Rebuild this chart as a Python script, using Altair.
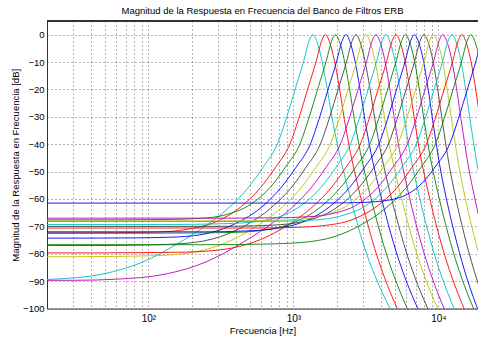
import altair as alt
import pandas as pd

# ---------------- texts ----------------
title_text = "Magnitud de la Respuesta en Frecuencia del Banco de Filtros ERB"
x_title = "Frecuencia [Hz]"
y_title = "Magnitud de la Respuesta en Frecuencia [dB]"

# ---------------- data ----------------
# centre frequency (Hz) of every ERB filter, left to right
center_hz = [1363, 1663, 1949, 2302, 2698, 3162, 3707, 4345, 5092,
             5921, 6831, 7943, 9237, 10740, 12390, 14520, 16750, 21000]

# frequency positions relative to each centre (f / fc)
ratios_left = [0.00853, 0.0161, 0.0356, 0.0673, 0.117, 0.1743, 0.2594,
               0.3562, 0.4519, 0.5736, 0.6512, 0.7635, 0.8667, 0.9384, 1.0]
ratios_right = [1.0656, 1.1538, 1.2489, 1.352, 1.487, 1.663, 1.887,
                2.213, 2.677, 3.396, 4.519]

# magnitude (dB) on the low-frequency side of every filter
left_db = [
    [-89.7, -89.3, -87.4, -83.0, -76.3, -70.5, -63.5, -56.0, -48.5, -39.5, -31, -19, -9.4, -2.5, 0],
    [-72.4, -72.4, -72.3, -72.1, -70.9, -68.4, -63.0, -55.9, -48.5, -39.5, -31, -19, -9.4, -2.5, 0],
    [-67.6, -67.6, -67.6, -67.5, -67.1, -65.8, -62.0, -55.7, -48.4, -39.5, -31, -19, -9.4, -2.5, 0],
    [-74.3, -74.3, -74.2, -73.9, -72.3, -68.9, -63.2, -55.9, -48.5, -39.5, -31, -19, -9.4, -2.5, 0],
    [-77.0, -77.0, -76.8, -76.2, -73.7, -69.6, -63.3, -56.0, -48.5, -39.5, -31, -19, -9.4, -2.5, 0],
    [-81.1, -81.0, -80.7, -79.3, -75.2, -70.1, -63.4, -56.0, -48.5, -39.5, -31, -19, -9.4, -2.5, 0],
    [-89.7, -89.3, -87.4, -83.0, -76.3, -70.5, -63.5, -56.0, -48.5, -39.5, -31, -19, -9.4, -2.5, 0],
    [-69.3, -69.3, -69.3, -69.1, -68.5, -66.9, -62.5, -55.8, -48.5, -39.5, -31, -19, -9.4, -2.5, 0],
    [-79.7, -79.6, -79.4, -78.3, -74.8, -70.0, -63.4, -56.0, -48.5, -39.5, -31, -19, -9.4, -2.5, 0],
    [-72.5, -72.5, -72.4, -72.2, -71.0, -68.4, -63.0, -55.9, -48.5, -39.5, -31, -19, -9.4, -2.5, 0],
    [-72.0, -72.0, -72.0, -71.7, -70.6, -68.2, -62.9, -55.9, -48.5, -39.5, -31, -19, -9.4, -2.5, 0],
    [-70.0, -70.0, -70.0, -69.8, -69.1, -67.2, -62.6, -55.8, -48.5, -39.5, -31, -19, -9.4, -2.5, 0],
    [-68.0, -68.0, -68.0, -67.9, -67.4, -66.0, -62.1, -55.7, -48.4, -39.5, -31, -19, -9.4, -2.5, 0],
    [-67.0, -67.0, -67.0, -66.9, -66.5, -65.3, -61.9, -55.7, -48.4, -39.5, -31, -19, -9.4, -2.5, 0],
    [-68.2, -68.2, -68.2, -68.1, -67.6, -66.1, -62.2, -55.7, -48.4, -39.5, -31, -19, -9.4, -2.5, 0],
    [-70.6, -70.6, -70.6, -70.4, -69.6, -67.6, -62.7, -55.9, -48.5, -39.5, -31, -19, -9.4, -2.5, 0],
    [-76.7, -76.7, -76.5, -75.9, -73.6, -69.5, -63.3, -56.0, -48.5, -39.5, -31, -19, -9.4, -2.5, 0],
    [-61.5, -61.5, -61.5, -61.5, -61.4, -61.0, -59.4, -54.9, -48.3, -39.5, -31, -19, -9.4, -2.5, 0],
]

# magnitude (dB) on the high-frequency side (four slopes seen in the picture)
right_db_a = [-2.5, -9.5, -19.0, -30, -41, -52.0, -63.0, -76, -88.0, -100, -113]
right_db_b = [-2.5, -9.5, -19.5, -31, -43, -54.5, -66.0, -79, -91.5, -104, -117]
right_db_c = [-2.5, -9.5, -20.0, -32, -45, -57.0, -69.0, -82, -94.5, -107, -120]
right_db_d = [-2.5, -9.5, -20.5, -33, -47, -60.0, -72.5, -86, -99.0, -112, -125]
right_side = [right_db_a] + [right_db_b] * 5 + [right_db_c] * 4 + [right_db_d] * 8

line_colors = ["#00BFBF", "#FF0000", "#008000", "#0000FF", "#404040", "#BFBF00", "#BF00BF"] * 3
line_colors = line_colors[:18]

y_ticks = [-100, -90, -80, -70, -60, -50, -40, -30, -20, -10, 0]
x_grid = [20, 30, 40, 50, 60, 70, 80, 90,
          100, 200, 300, 400, 500, 600, 700, 800, 900,
          1000, 2000, 3000, 4000, 5000, 6000, 7000, 8000, 9000, 10000]

# ---------------- table ----------------
names = [f"f{k + 1:02d}" for k in range(len(center_hz))]
rows = []
for k, fc in enumerate(center_hz):
    freqs = [fc * r for r in ratios_left + ratios_right]
    levels = left_db[k] + right_side[k]
    if freqs[0] > 20:
        rows.append({"curve": names[k], "freq": 15.0, "db": left_db[k][0]})
    for f, v in zip(freqs, levels):
        rows.append({"curve": names[k], "freq": f, "db": v})
df = pd.DataFrame(rows)

FONT = "Liberation Sans"
W, H = 431, 287.5

label_expr = ("datum.value == 100 ? '10\u00b2' : datum.value == 1000 ? '10\u00b3' : "
              "datum.value == 10000 ? '10\u2074' : ''")

lines = alt.Chart(df).mark_line(clip=True, strokeWidth=0.9, interpolate="monotone").encode(
    x=alt.X("freq:Q",
            scale=alt.Scale(type="log", domain=[20, 18750], nice=False),
            axis=alt.Axis(values=x_grid, labelExpr=label_expr, labelOverlap=False,
                          ticks=False, tickSize=0, labelPadding=5, labelFontSize=10,
                          labelFont=FONT, labelColor="black", title=x_title,
                          titleFont=FONT, titleFontSize=9.5, titleFontWeight="normal",
                          titleColor="black", titlePadding=2, domain=True,
                          domainColor="#333", grid=True, gridColor="#666",
                          gridDash=[1, 3], labelFlush=False)),
    y=alt.Y("db:Q",
            scale=alt.Scale(domain=[-100, 5], nice=False),
            axis=alt.Axis(values=y_ticks, ticks=False, tickSize=0, labelPadding=3,
                          labelFontSize=9.5, labelFont=FONT, labelColor="black",
                          title=y_title, titleFont=FONT, titleFontSize=9.5,
                          titleFontWeight="normal", titleColor="black", titlePadding=2,
                          domain=True, domainColor="#333", grid=True, gridColor="#666",
                          gridDash=[1, 3])),
    color=alt.Color("curve:N", scale=alt.Scale(domain=names, range=line_colors), legend=None),
)

top_border = alt.Chart(df).mark_rule(color="#333", strokeWidth=1).encode(
    x=alt.value(0), x2=alt.value(W), y=alt.value(0)
)

chart = alt.layer(lines, top_border).properties(
    width=W, height=H,
    padding={"left": 47, "top": 21, "right": 0, "bottom": 341 - 21 - H},
    autosize=alt.AutoSizeParams(type="none"),
    title=alt.TitleParams(title_text, font=FONT, fontSize=9.5, fontWeight="normal",
                          color="black", anchor="middle", offset=5),
    background="white",
).configure_view(stroke=None)

chart.save("out.html", embed_options={"renderer": "svg", "actions": False})
